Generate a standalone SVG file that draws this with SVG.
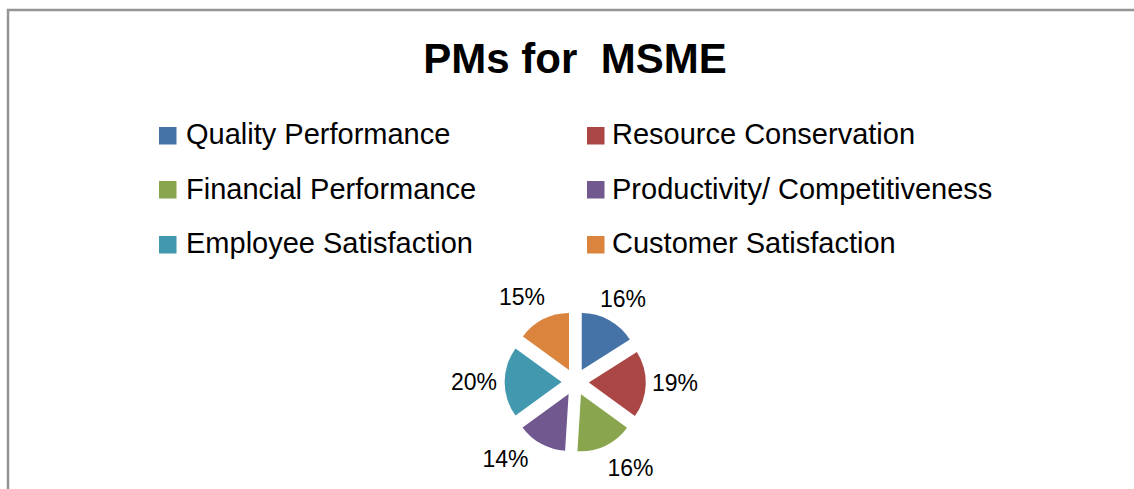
<svg xmlns="http://www.w3.org/2000/svg" width="1134" height="489" viewBox="0 0 1134 489">
<style>
.title{font-family:"Liberation Sans",Arial,sans-serif;font-weight:bold;font-size:42px;fill:#000;text-anchor:middle;white-space:pre}
.leg{font-family:"Liberation Sans",Arial,sans-serif;font-size:29px;fill:#000}
.lbl{font-family:"Liberation Sans",Arial,sans-serif;font-size:23px;fill:#000;text-anchor:middle}
</style>
<rect x="0" y="0" width="1134" height="489" fill="#fff"/>
<rect x="8" y="10" width="1150" height="500" fill="#fff" stroke="#959595" stroke-width="2.5"/>
<text class="title" x="575" y="73" xml:space="preserve">PMs for  MSME</text>
<g id="legend">
<rect x="159" y="127" width="17.5" height="17.5" fill="#4572A7"/>
<text class="leg" x="186" y="144">Quality Performance</text>
<rect x="587" y="127" width="17.5" height="17.5" fill="#AA4643"/>
<text class="leg" x="612" y="144">Resource Conservation</text>
<rect x="159" y="181" width="17.5" height="17.5" fill="#89A54E"/>
<text class="leg" x="186" y="198.5">Financial Performance</text>
<rect x="587" y="181" width="17.5" height="17.5" fill="#71588F"/>
<text class="leg" x="612" y="198.5">Productivity/ Competitiveness</text>
<rect x="159" y="236" width="17.5" height="17.5" fill="#4198AF"/>
<text class="leg" x="186" y="253">Employee Satisfaction</text>
<rect x="587" y="236" width="17.5" height="17.5" fill="#DB843D"/>
<text class="leg" x="612" y="253">Customer Satisfaction</text>
</g>
<g id="pie">
<g id="slice-quality"><path d="M581.75,370.08 L581.75,313.08 A57,57 0 0 1 629.88,339.54 Z" fill="#4572A7"/></g>
<g id="slice-resource"><path d="M588.79,382.43 L636.92,351.89 A57,57 0 0 1 634.90,415.93 Z" fill="#AA4643"/></g>
<g id="slice-financial"><path d="M580.99,394.31 L627.10,427.81 A57,57 0 0 1 577.41,451.20 Z" fill="#89A54E"/></g>
<g id="slice-productivity"><path d="M568.65,393.92 L565.07,450.81 A57,57 0 0 1 522.54,427.42 Z" fill="#71588F"/></g>
<g id="slice-employee"><path d="M561.6,382 L515.49,415.50 A57,57 0 0 1 515.49,348.50 Z" fill="#4198AF"/></g>
<g id="slice-customer"><path d="M569.03,369.88 L522.92,336.38 A57,57 0 0 1 569.03,312.88 Z" fill="#DB843D"/></g>
</g>
<g id="labels">
<text class="lbl" x="623" y="306.5">16%</text>
<text class="lbl" x="675" y="390.5">19%</text>
<text class="lbl" x="630.5" y="476">16%</text>
<text class="lbl" x="505.5" y="467">14%</text>
<text class="lbl" x="474" y="389.5">20%</text>
<text class="lbl" x="522" y="305">15%</text>
</g>
</svg>
